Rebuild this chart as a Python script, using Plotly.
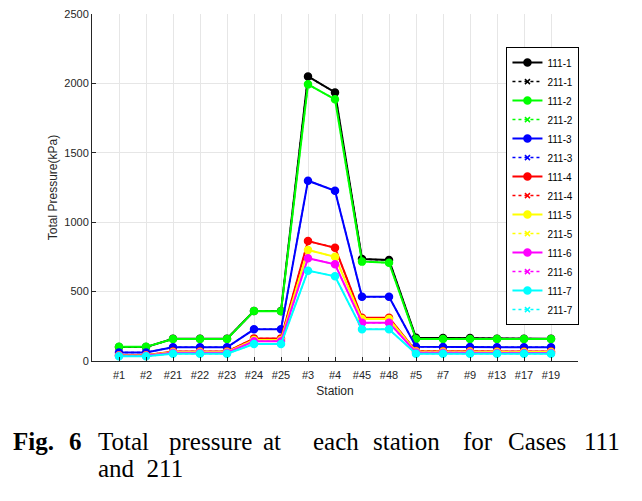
import plotly.graph_objects as go

stations = ["#1", "#2", "#21", "#22", "#23", "#24", "#25", "#3", "#4", "#45", "#48",
            "#5", "#7", "#9", "#13", "#17", "#19"]

p111_1 = [100, 100, 160, 160, 160, 360, 360, 2050, 1935, 735, 727, 168, 166, 166, 160, 160, 160]
p211_1 = [100, 100, 160, 160, 160, 360, 360, 2050, 1935, 735, 727, 168, 166, 166, 160, 160, 160]
p111_2 = [102, 102, 158, 158, 158, 360, 358, 1993, 1885, 716, 708, 158, 158, 158, 158, 158, 158]
p211_2 = [102, 102, 158, 158, 158, 360, 358, 1993, 1885, 716, 708, 158, 158, 158, 158, 158, 158]
p111_3 = [62, 62, 99, 99, 99, 228, 228, 1299, 1227, 463, 463, 103, 101, 101, 99, 99, 99]
p211_3 = [62, 62, 99, 99, 99, 228, 228, 1299, 1227, 463, 463, 103, 101, 101, 99, 99, 99]
p111_4 = [42, 42, 68, 68, 68, 163, 163, 864, 816, 312, 312, 72, 70, 70, 68, 68, 68]
p211_4 = [42, 42, 68, 68, 68, 163, 163, 864, 816, 312, 312, 72, 70, 70, 68, 68, 68]
p111_5 = [40, 40, 64, 64, 64, 152, 152, 800, 751, 302, 302, 68, 66, 66, 64, 64, 64]
p211_5 = [40, 40, 64, 64, 64, 152, 152, 800, 751, 302, 302, 68, 66, 66, 64, 64, 64]
p111_6 = [38, 38, 60, 60, 60, 142, 142, 740, 697, 276, 276, 62, 60, 60, 58, 58, 58]
p211_6 = [38, 38, 60, 60, 60, 142, 142, 740, 697, 276, 276, 62, 60, 60, 58, 58, 58]
p111_7 = [34, 34, 53, 53, 53, 122, 122, 651, 610, 228, 228, 53, 52, 52, 52, 52, 52]
p211_7 = [34, 34, 53, 53, 53, 122, 122, 651, 610, 228, 228, 53, 52, 52, 52, 52, 52]

series = [
    ("111-1", p111_1, "#000000", "solid"), ("211-1", p211_1, "#000000", "dot"),
    ("111-2", p111_2, "#00ff00", "solid"), ("211-2", p211_2, "#00ff00", "dot"),
    ("111-3", p111_3, "#0000ff", "solid"), ("211-3", p211_3, "#0000ff", "dot"),
    ("111-4", p111_4, "#ff0000", "solid"), ("211-4", p211_4, "#ff0000", "dot"),
    ("111-5", p111_5, "#ffff00", "solid"), ("211-5", p211_5, "#ffff00", "dot"),
    ("111-6", p111_6, "#ff00ff", "solid"), ("211-6", p211_6, "#ff00ff", "dot"),
    ("111-7", p111_7, "#00ffff", "solid"), ("211-7", p211_7, "#00ffff", "dot"),
]

fig = go.Figure()
for name, vals, color, dash in series:
    is111 = dash == "solid"
    fig.add_trace(go.Scatter(
        x=stations, y=vals, name=name, mode="lines+markers",
        line=dict(color=color, width=2 if is111 else 1.5, dash=dash),
        marker=dict(symbol="circle" if is111 else "x-thin-open",
                    size=7 if is111 else 5, color=color,
                    line=dict(color=color, width=1.5)),
    ))

axis_col = "#262626"
tick_font = dict(family="Liberation Sans, Arial", size=11, color=axis_col)
title_font = dict(family="Liberation Sans, Arial", size=12, color=axis_col)

# page body has an 8px default margin, so the figure is 8px smaller than the window
fig.update_layout(
    width=634, height=493,
    margin=dict(l=84, r=64, t=6, b=140, autoexpand=False),
    paper_bgcolor="white", plot_bgcolor="white",
    showlegend=True,
    legend=dict(x=1.003, xanchor="right", y=0.504, yanchor="middle",
                bgcolor="white", bordercolor="#000000", borderwidth=1,
                font=dict(family="Liberation Sans, Arial", size=10, color="#000000"),
                tracegroupgap=0, itemwidth=30),
    xaxis=dict(type="category", range=[-1, 17], showgrid=True, gridcolor="#e6e6e6",
               gridwidth=1, showline=True, linecolor=axis_col, linewidth=1,
               ticks="inside", ticklen=4, tickcolor=axis_col, tickfont=tick_font,
               ticklabelstandoff=4,
               title=dict(text="Station", font=title_font, standoff=6),
               zeroline=False, mirror=False, automargin=False),
    yaxis=dict(range=[0, 2500], dtick=500, showgrid=True, gridcolor="#e6e6e6",
               gridwidth=1, showline=True, linecolor=axis_col, linewidth=1,
               ticks="inside", ticklen=4, tickcolor=axis_col, tickfont=tick_font,
               ticklabeloverflow="allow",
               title=dict(text="Total Pressure(kPa)", font=title_font, standoff=4),
               zeroline=False, mirror=False, automargin=False),
)

# caption (window pixel positions converted to paper coordinates of the plot area)
PL, PW, PB, PH = 92, 486, 361, 347
cap_font = dict(family="Liberation Serif, Times New Roman", size=25, color="#000000")
line1 = [("<b>Fig.</b>", 12), ("<b>6</b>", 68), ("Total", 97), ("pressure", 168),
         ("at", 262), ("each", 312), ("station", 372), ("for", 462),
         ("Cases", 507), ("111", 583)]
for txt, px in line1:
    fig.add_annotation(text=txt, xref="paper", yref="paper",
                       x=(px - PL) / PW, y=(PB - 441) / PH,
                       xanchor="left", yanchor="middle", showarrow=False,
                       font=cap_font, borderpad=0)
fig.add_annotation(text="and  211", xref="paper", yref="paper",
                   x=(97 - PL) / PW, y=(PB - 468) / PH,
                   xanchor="left", yanchor="middle", showarrow=False,
                   font=cap_font, borderpad=0)

fig.write_html("out.html")
